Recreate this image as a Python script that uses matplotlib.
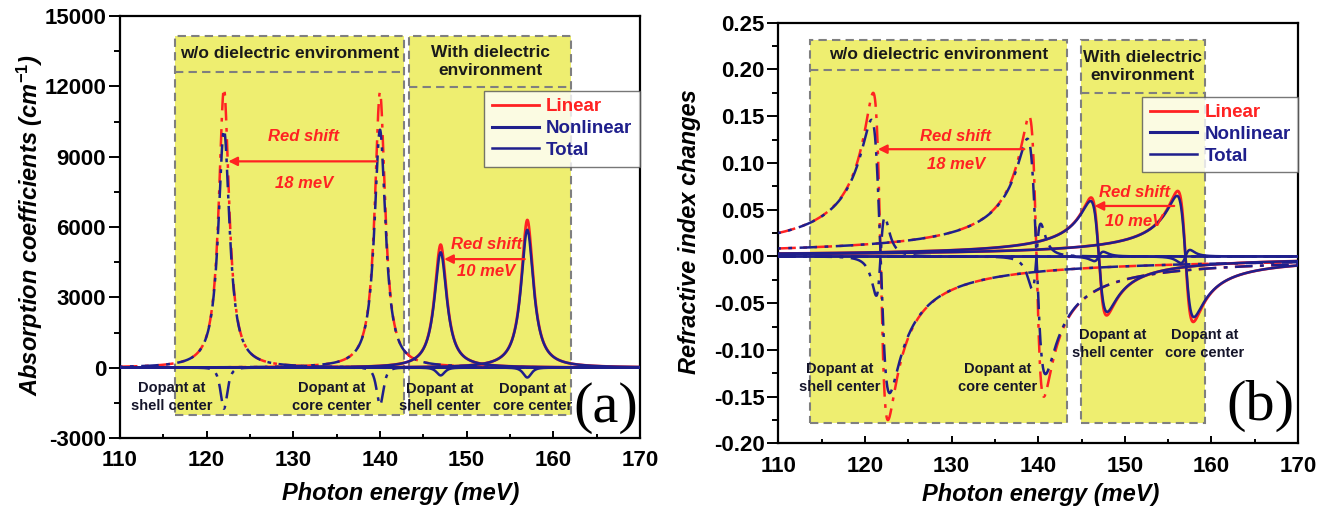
import numpy as np
import matplotlib
matplotlib.use("Agg")
import matplotlib.pyplot as plt
from matplotlib.patches import Rectangle
from matplotlib.lines import Line2D
from matplotlib.ticker import FuncFormatter

plt.rcParams.update({
    "font.family": ["Liberation Sans", "DejaVu Sans"],
    "font.weight": "bold",
    "axes.labelweight": "bold",
    "axes.unicode_minus": False,
    "mathtext.fontset": "custom",
    "mathtext.it": "Liberation Sans:italic:bold",
    "mathtext.rm": "Liberation Sans:bold",
    "mathtext.bf": "Liberation Sans:italic:bold",
    "mathtext.default": "it",
})

RED = "#ff2222"
NAVY = "#1f1f8c"
YELLOW = "#eeee70"
BOX_EDGE = "#7f7f7f"
DASHDOT = (7, 3, 1.5, 3)

# ---- (a) absorption: resonances (shell centre, core centre) ----
ABS_E0_WO = [122.0, 140.0]          # meV, without dielectric environment
ABS_LIN_WO = [11900, 11750]         # cm^-1, linear peak
ABS_NL_WO = [-1750, -1600]          # cm^-1, third-order dip
ABS_GAMMA_WO = 0.72
ABS_E0_WITH = [147.0, 157.0]        # meV, with dielectric environment
ABS_LIN_WITH = [5250, 6300]
ABS_NL_WITH = [-330, -420]
ABS_GAMMA_WITH = 0.85

# ---- (b) refractive index changes ----
RI_E0_WO = [121.8, 139.8]
RI_LIN_WO = [0.175, 0.150]          # extreme of linear dispersion curve
RI_NL_WO = [0.042, 0.035]           # extreme of third-order term
RI_GAMMA_WO = 0.85
RI_E0_WITH = [147.0, 157.0]
RI_LIN_WITH = [0.063, 0.070]
RI_NL_WITH = [0.005, 0.007]
RI_GAMMA_WITH = 0.9

E = np.linspace(110, 170, 6001)


def lorentz(e, e0, g):
    return g ** 2 / ((e - e0) ** 2 + g ** 2)


def disp(e, e0, g):
    # dispersive lineshape normalised to +/-1 at e0 -/+ g
    return 2 * g * (e0 - e) / ((e - e0) ** 2 + g ** 2)


def disp_nl(e, e0, g):
    # squared-denominator dispersion, normalised to +/-1
    return (e0 - e) * g ** 3 / ((e - e0) ** 2 + g ** 2) ** 2 / (9 / (16 * np.sqrt(3)))


fig = plt.figure(figsize=(13.3, 5.13), dpi=100)
ax1 = fig.add_axes([0.0902, 0.1462, 0.391, 0.8226])
ax2 = fig.add_axes([0.5852, 0.1355, 0.3908, 0.8203])


def style_axes(ax):
    for s in ax.spines.values():
        s.set_linewidth(1.6)
    ax.tick_params(axis="y", which="major", direction="out", length=8, width=1.4,
                   labelsize=16, pad=2)
    ax.tick_params(axis="y", which="minor", direction="out", length=4, width=1.4)
    ax.tick_params(axis="x", which="major", direction="in", length=5, width=1.4,
                   labelsize=16, pad=9)
    ax.tick_params(axis="x", which="minor", direction="in", length=3, width=1.4)
    ax.set_xlim(110, 170)
    ax.set_xticks(np.arange(110, 171, 10))
    ax.set_xticks(np.arange(115, 170, 10), minor=True)


def box(ax, x0, x1, y0, y1, ydiv, title):
    ax.add_patch(Rectangle((x0, y0), x1 - x0, y1 - y0, facecolor=YELLOW,
                           edgecolor=BOX_EDGE, lw=1.5, ls=(0, (4, 2.5)), zorder=0))
    ax.plot([x0, x1], [ydiv, ydiv], color=BOX_EDGE, lw=1.5, ls=(0, (4, 2.5)), zorder=0.5)
    ax.text((x0 + x1) / 2, (y1 + ydiv) / 2, title, ha="center", va="center",
            fontsize=12.5, color="#1a1a1a", linespacing=1.3, zorder=1)


def red_shift(ax, x_from, x_to, y, xt, yt1, yt2, txt):
    ax.annotate("", xy=(x_to, y), xytext=(x_from, y),
                arrowprops=dict(arrowstyle="-|>", color=RED, lw=1.6, mutation_scale=13,
                                shrinkA=0, shrinkB=0), zorder=6)
    ax.text(xt, yt1, "Red shift", color=RED, style="italic", fontsize=12,
            ha="center", va="center", zorder=6)
    ax.text(xt, yt2, txt, color=RED, style="italic", fontsize=12,
            ha="center", va="center", zorder=6)


def dopant(ax, x, y, where):
    ax.text(x, y, "Dopant at\n" + where + " center", ha="center", va="center",
            fontsize=10.5, color="#15152a", linespacing=1.35, zorder=7)


def legend(ax, anchor):
    handles = [Line2D([], [], color=RED, lw=2.0),
               Line2D([], [], color=NAVY, lw=2.2),
               Line2D([], [], color=NAVY, lw=1.8)]
    leg = ax.legend(handles, ["Linear", "Nonlinear", "Total"], loc="upper right",
                    bbox_to_anchor=anchor, frameon=True, fancybox=False, fontsize=13.5,
                    handlelength=2.5, handletextpad=0.4, labelspacing=0.25,
                    borderpad=0.4, borderaxespad=0)
    leg.get_frame().set_edgecolor("#555555")
    leg.get_frame().set_linewidth(1.0)
    for t, c in zip(leg.get_texts(), [RED, NAVY, NAVY]):
        t.set_color(c)
    leg.set_zorder(8)


# ---------------- (a) absorption coefficients ----------------
style_axes(ax1)
ax1.set_ylim(-3000, 15000)
ax1.set_yticks(np.arange(-3000, 15001, 3000))
ax1.set_yticks(np.arange(-1500, 15000, 3000), minor=True)

box(ax1, 116.4, 142.8, -2000, 14140, 12630, "w/o dielectric environment")
box(ax1, 143.4, 162.0, -2000, 14140, 11980, "With dielectric\nenvironment")

for e0, a, b in zip(ABS_E0_WO, ABS_LIN_WO, ABS_NL_WO):
    lin = a * lorentz(E, e0, ABS_GAMMA_WO)
    nl = b * lorentz(E, e0, ABS_GAMMA_WO) ** 2
    ax1.plot(E, lin, color=RED, lw=1.8, ls=(0, DASHDOT), zorder=2)
    ax1.plot(E, lin + nl, color=NAVY, lw=1.8, ls=(6, DASHDOT), zorder=3)
    ax1.plot(E, nl, color=NAVY, lw=1.8, ls=(0, DASHDOT), zorder=3)

for e0, a, b in zip(ABS_E0_WITH, ABS_LIN_WITH, ABS_NL_WITH):
    lin = a * lorentz(E, e0, ABS_GAMMA_WITH)
    nl = b * lorentz(E, e0, ABS_GAMMA_WITH) ** 2
    ax1.plot(E, lin, color=RED, lw=2.0, zorder=2)
    ax1.plot(E, lin + nl, color=NAVY, lw=1.8, zorder=3)
    ax1.plot(E, nl, color=NAVY, lw=1.8, zorder=3)

red_shift(ax1, 139.6, 122.5, 8800, 131.2, 9850, 7850, "18 meV")
red_shift(ax1, 156.7, 147.4, 4630, 152.3, 5250, 4100, "10 meV")

dopant(ax1, 116.0, -1250, "shell")
dopant(ax1, 134.4, -1250, "core")
dopant(ax1, 146.9, -1270, "shell")
dopant(ax1, 157.6, -1270, "core")

legend(ax1, (1.0, (11810 + 3000) / 18000))
ax1.text(0.997, 0.072, "(a)", transform=ax1.transAxes, ha="right", va="center",
         family="Liberation Serif", fontweight="normal", fontsize=42, zorder=9)

ax1.set_xlabel("Photon energy (meV)", fontsize=17, style="italic")
ax1.set_ylabel(r"Absorption coefficients (cm$^{-1}$)", fontsize=17, style="italic")
ax1.xaxis.set_label_coords(0.54, -0.105)
ax1.yaxis.set_label_coords(-0.145, 0.505)

# ---------------- (b) refractive index changes ----------------
style_axes(ax2)
ax2.set_ylim(-0.20, 0.25)
ax2.set_yticks(np.round(np.arange(-0.20, 0.251, 0.05), 2))
ax2.set_yticks(np.round(np.arange(-0.175, 0.25, 0.05), 3), minor=True)
ax2.yaxis.set_major_formatter(FuncFormatter(lambda v, p: f"{round(v, 2) + 0.0:.2f}"))

box(ax2, 113.65, 143.3, -0.178, 0.2315, 0.1995, "w/o dielectric environment")
box(ax2, 144.9, 159.2, -0.178, 0.2315, 0.1746, "With dielectric\nenvironment")

for e0, a, b in zip(RI_E0_WO, RI_LIN_WO, RI_NL_WO):
    lin = a * disp(E, e0, RI_GAMMA_WO)
    nl = -b * disp_nl(E, e0, RI_GAMMA_WO)
    ax2.plot(E, lin, color=RED, lw=1.8, ls=(0, DASHDOT), zorder=2)
    ax2.plot(E, lin + nl, color=NAVY, lw=1.8, ls=(6, DASHDOT), zorder=3)
    ax2.plot(E, nl, color=NAVY, lw=1.8, ls=(0, DASHDOT), zorder=3)

for e0, a, b in zip(RI_E0_WITH, RI_LIN_WITH, RI_NL_WITH):
    lin = a * disp(E, e0, RI_GAMMA_WITH)
    nl = -b * disp_nl(E, e0, RI_GAMMA_WITH)
    ax2.plot(E, lin, color=RED, lw=2.0, zorder=2)
    ax2.plot(E, lin + nl, color=NAVY, lw=1.8, zorder=3)
    ax2.plot(E, nl, color=NAVY, lw=1.8, zorder=3)

red_shift(ax2, 138.4, 121.5, 0.1147, 130.5, 0.128, 0.098, "18 meV")
red_shift(ax2, 155.7, 146.5, 0.054, 151.1, 0.068, 0.0374, "10 meV")

dopant(ax2, 117.1, -0.130, "shell")
dopant(ax2, 135.3, -0.130, "core")
dopant(ax2, 148.6, -0.094, "shell")
dopant(ax2, 159.2, -0.094, "core")

legend(ax2, (1.0, (0.171 + 0.20) / 0.45))
ax2.text(0.994, 0.09, "(b)", transform=ax2.transAxes, ha="right", va="center",
         family="Liberation Serif", fontweight="normal", fontsize=42, zorder=9)

ax2.set_xlabel("Photon energy (meV)", fontsize=17, style="italic")
ax2.set_ylabel("Refractive index changes", fontsize=17, style="italic")
ax2.xaxis.set_label_coords(0.505, -0.094)
ax2.yaxis.set_label_coords(-0.149, 0.503)

fig.savefig("out.png", dpi=100)
